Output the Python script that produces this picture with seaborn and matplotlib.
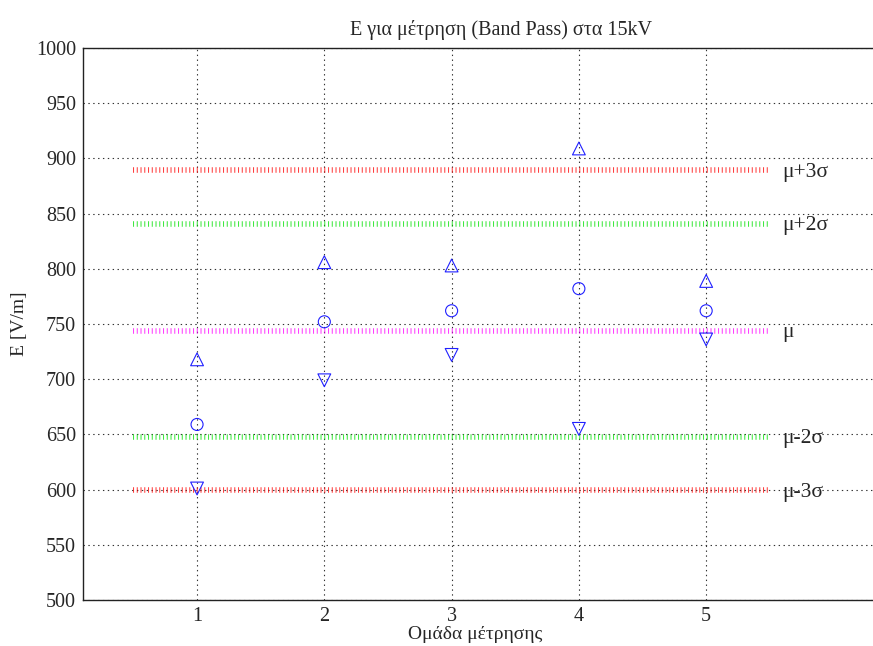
import matplotlib
matplotlib.use("Agg")
import matplotlib.pyplot as plt
import seaborn as sns
import pandas as pd

# measurement groups and the three readings per group
groups = [1, 2, 3, 4, 5]
e_max = [718, 806, 803, 909, 789]
e_mean = [659, 752, 762, 782, 762]
e_min = [601, 699, 722, 655, 736]

# control limits
limit_names = ["μ+3σ", "μ+2σ", "μ", "μ-2σ", "μ-3σ"]
limit_values = [889.5, 841, 744, 648, 599.5]
limit_colors = ["#ff0000", "#00e000", "#ff00ff", "#00e000", "#ff0000"]

title = "E για μέτρηση (Band Pass) στα 15kV"
xlabel = "Ομάδα μέτρησης"
ylabel = "E [V/m]"
yticks = list(range(500, 1001, 50))

sns.set_style("white")
plt.rcParams["font.family"] = ["Liberation Serif", "DejaVu Serif"]
plt.rcParams["lines.scale_dashes"] = False

fig = plt.figure(figsize=(8.73, 6.46), dpi=100)
# axes runs past the right edge of the picture, like the cropped original
ax = fig.add_axes([83 / 873, 46 / 646, 837 / 873, 552 / 646])

df = pd.DataFrame({"group": groups, "max": e_max, "mean": e_mean, "min": e_min})
for col, mk, sz in [("max", "^", 85), ("mean", "o", 75), ("min", "v", 85)]:
    sns.scatterplot(data=df, x="group", y=col, marker=mk, s=sz, ax=ax,
                    facecolor="none", edgecolor="#2020ff", linewidth=0.8, zorder=4)

x0 = groups[0] - 0.5
x1 = groups[-1] + 0.5
for name, val, c in zip(limit_names, limit_values, limit_colors):
    ax.hlines(val, x0, x1, colors=c, linewidth=4.0, linestyles=(0, (0.75, 1.95)),
              alpha=0.75, zorder=3, capstyle="butt")
    ax.text(x1 + 0.1, val - 2, name, fontsize=15.5, va="center", ha="left")

ax.set_xlim(0.104, 6.68)
ax.set_ylim(500, 1000)
ax.set_xticks(groups)
ax.set_yticks(yticks)
ax.tick_params(direction="in", length=5, labelsize=14.5, color="#555555", pad=5)
ax.grid(True, linestyle=(0, (1, 2.5)), color="#333333", linewidth=0.8)
for s in ["left", "bottom", "top"]:
    ax.spines[s].set_color("#222222")
    ax.spines[s].set_linewidth(1.0)
ax.spines["right"].set_visible(False)

ax.set_title(title, fontsize=14.5, pad=9)
ax.set_xlabel(xlabel, fontsize=14, va="top")
ax.set_ylabel(ylabel, fontsize=14, labelpad=6)
ax.xaxis.set_label_coords(0.468, -0.047)

fig.savefig("out.png", dpi=100)
